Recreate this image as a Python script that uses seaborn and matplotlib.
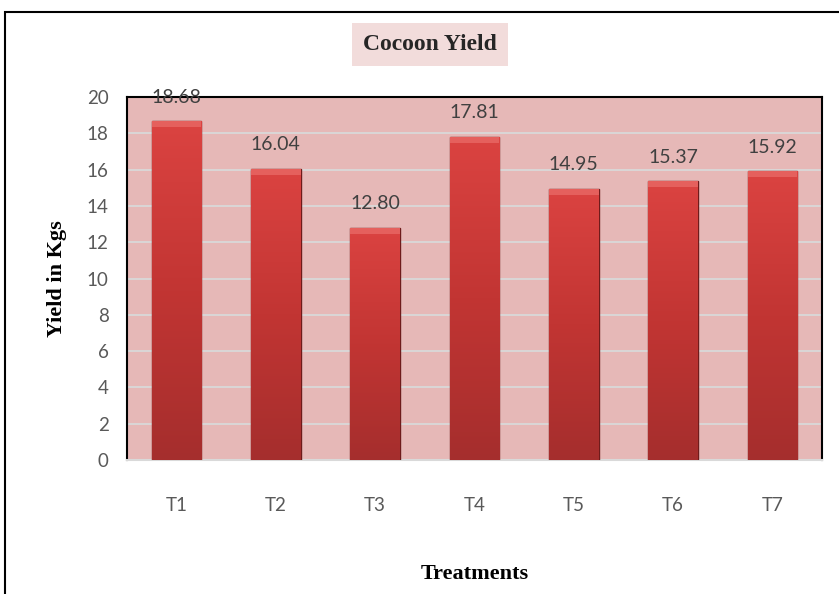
import numpy as np
import pandas as pd
import matplotlib
matplotlib.use('Agg')
import matplotlib.pyplot as plt
import seaborn as sns
from matplotlib.patches import Rectangle

# Data
treatments = ['T1', 'T2', 'T3', 'T4', 'T5', 'T6', 'T7']
yield_kgs = [18.68, 16.04, 12.80, 17.81, 14.95, 15.37, 15.92]

df = pd.DataFrame({'Treatment': treatments, 'Yield': yield_kgs})

sns.set_style('white')
plt.rcParams['font.family'] = ['Lato', 'DejaVu Sans']

fig = plt.figure(figsize=(8.39, 5.94), dpi=100)
ax = fig.add_axes([0.151, 0.2256, 0.829, 0.611])

sns.barplot(data=df, x='Treatment', y='Yield', color='#D63C3A',
            width=0.5, ax=ax, zorder=3, edgecolor='#6E1B1B', linewidth=1.0)

# vertical gradient inside the bars
grad = np.linspace(0, 1, 256).reshape(-1, 1)
cmap = matplotlib.colors.LinearSegmentedColormap.from_list(
    'bar', ['#A52E2D', '#C23533', '#DB4341'])
for p in ax.patches:
    x0, y0 = p.get_x(), p.get_y()
    w, h = p.get_width(), p.get_height()
    im = ax.imshow(grad, extent=[x0, x0 + w, y0, y0 + h], origin='lower',
                   cmap=cmap, aspect='auto', zorder=3.5)
    im.set_clip_path(p)
    # top bevel
    ax.add_patch(Rectangle((x0, y0 + h - 0.35), w, 0.35, facecolor='#E5605D',
                           edgecolor='none', zorder=3.6))

ax.set_xlim(-0.5, 6.5)
ax.set_ylim(0, 20)
ax.set_yticks(range(0, 21, 2))
ax.set_facecolor('#E6B8B7')
ax.grid(axis='y', color='#D9D9D9', linewidth=1.3, zorder=1)
ax.set_axisbelow(True)

for s in ['left', 'top', 'right']:
    ax.spines[s].set_color('black')
    ax.spines[s].set_linewidth(1.5)
ax.spines['bottom'].set_color('#D9D9D9')
ax.spines['bottom'].set_linewidth(1.5)

ax.tick_params(axis='both', length=0, labelsize=13.5, labelcolor='#595959')
ax.tick_params(axis='x', pad=27)
ax.tick_params(axis='y', pad=13)

for i, v in enumerate(yield_kgs):
    ax.text(i, v + 0.85, f'{v:.2f}', ha='center', va='bottom',
            fontsize=14, color='#404040', zorder=5)

ax.set_xlabel('Treatments', family='Liberation Serif', fontweight='bold',
              fontsize=16, color='black', labelpad=36)
ax.set_ylabel('Yield in Kgs', family='Liberation Serif', fontweight='bold',
              fontsize=16, color='black', labelpad=14)

fig.text(0.513, 0.925, 'Cocoon Yield', family='Liberation Serif',
         fontweight='bold', fontsize=17, ha='center', va='center',
         bbox=dict(facecolor='#F2DCDB', edgecolor='none', pad=8))

# outer chart frame
fig.patches.append(Rectangle((5 / 839, -0.1), 1.2, 1.1 - 12 / 594,
                             transform=fig.transFigure, fill=False,
                             edgecolor='black', linewidth=1.5))

plt.savefig('out.png', dpi=100)
plt.close()
